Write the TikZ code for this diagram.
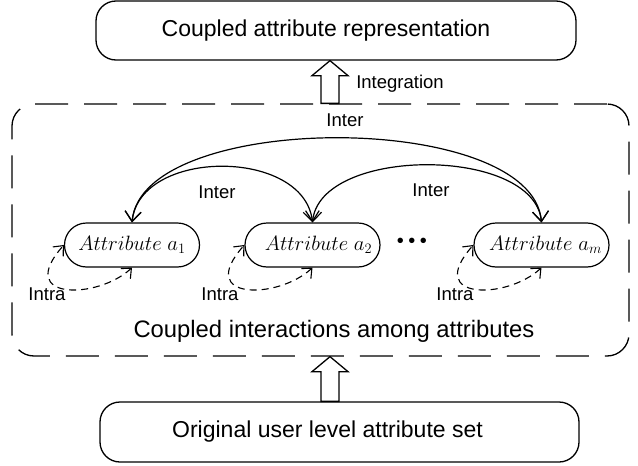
\documentclass[tikz,border=0pt]{standalone}
\usepackage{fontspec}
\setmainfont{Liberation Sans}
\usetikzlibrary{shapes.misc,arrows.meta,calc}

% hollow upward block arrow from #1 (base) to #2 (tip)
\newcommand{\bkarrow}[2]{%
  \draw[line width=1.3pt, fill=white] let \p1=(#1), \p2=(#2) in
    (\x1-9pt,\y1) -- (\x1-9pt,\y2-15pt) -- (\x1-18pt,\y2-15pt) -- (\x1,\y2)
    -- (\x1+18pt,\y2-15pt) -- (\x1+9pt,\y2-15pt) -- (\x1+9pt,\y1) -- cycle;}

\tikzset{
  bigbox/.style={draw, line width=1.3pt, rounded corners=20pt, inner sep=0pt,
    font=\fontsize{23}{27}\selectfont},
  attr/.style={draw, rounded rectangle, line width=1.2pt, inner sep=0pt,
    minimum width=135pt, minimum height=44pt, font=\fontsize{20.5}{24}\selectfont},
  lbl/.style={inner sep=0pt, font=\fontsize{18.5}{22}\selectfont},
  dashframe/.style={draw, line width=1.3pt, rounded corners=22pt,
    dash pattern=on 33pt off 16pt, inner sep=0pt},
  barb/.tip={Straight Barb[length=10pt,width=16pt]},
  smallbarb/.tip={Straight Barb[length=8pt,width=14pt]},
  inter/.style={barb-barb, line width=1.2pt},
  intra/.style={smallbarb-smallbarb, line width=1.1pt, dash pattern=on 7pt off 5pt},
}

\begin{document}
\begin{tikzpicture}[x=1pt,y=-1pt]
\useasboundingbox (0,0) rectangle (638,466);

% outer boxes
\node[bigbox, minimum width=480pt, minimum height=59pt] (top) at (336,30.5)
  {\raisebox{2pt}{Coupled attribute representation}\rule{20pt}{0pt}};
\node[bigbox, minimum width=479pt, minimum height=60pt] (bottom) at (339.5,432)
  {\raisebox{-4pt}{Original user level attribute set}\rule{24pt}{0pt}};
\node[dashframe, minimum width=617pt, minimum height=252pt] (frame) at (320.5,230) {};
\node[lbl, font=\fontsize{23.8}{28}\selectfont] (caption) at (334,331)
  {Coupled interactions among attributes};

% attribute nodes
\node[attr] (a1) at (132,245) {$Attribute\ a_1$};
\node[attr] (a2) at (312.5,245) {\rule{12pt}{0pt}$Attribute\ a_2$};
\node[attr] (am) at (541.5,245) {\rule{8pt}{0pt}$Attribute\ a_m$};
\node[inner sep=0pt, font=\fontsize{20}{24}\selectfont] (dots) at (412,243)
  {\textbullet\hspace{4.5pt}\textbullet\hspace{4.5pt}\textbullet};

% block arrows between levels
\coordinate (ax) at (330,0);
\bkarrow{frame.north -| ax}{top.south -| ax}
\bkarrow{bottom.north -| ax}{frame.south -| ax}
\node[lbl] (integ) at (400,84) {Integration};

% inter-attribute couplings
\draw[inter] (a1.north) .. controls (142,110) and (532,110) .. (am.north);
\draw[inter] (a1.north) .. controls (140,148) and (304,148) .. (a2.north);
\draw[inter] (a2.north) .. controls (320,146) and (534,146) .. (am.north);
\node[lbl] (inter0) at (345,120) {Inter};
\node[lbl] (inter1) at (217,192) {Inter};
\node[lbl] (inter2) at (431,190) {Inter};

% intra-attribute couplings
\foreach \n/\lx in {a1/47, a2/220, am/455} {
  \draw[intra] (\n.south) .. controls +(-34,32) and ($(\n.west)+(-50,56)$) .. (\n.west);
  \node[lbl] at (\lx,294) {Intra};
}
\end{tikzpicture}
\end{document}
